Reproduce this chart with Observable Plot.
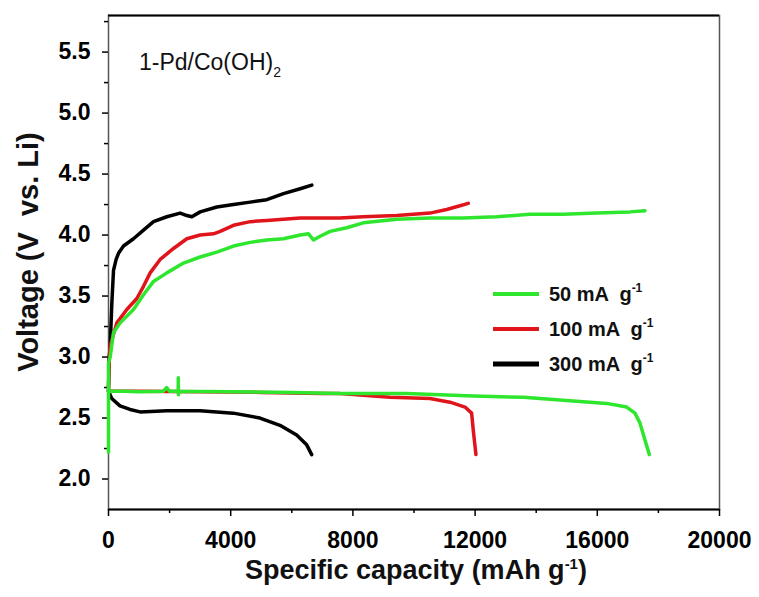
<!DOCTYPE html>
<html><head><meta charset="utf-8">
<script src="https://cdn.jsdelivr.net/npm/d3@7"></script>
<script src="https://cdn.jsdelivr.net/npm/@observablehq/plot@0.6"></script>
<style>
html,body{margin:0;padding:0;background:#fff;}
#chart{width:759px;height:597px;}
</style></head><body><div id="chart"></div>
<script>
// Series draw order (back to front) and colours
const rates = [300, 100, 50];
const rateColors = ["#000000", "#e0141b", "#2ee62e"];
// Legend order as shown
const legendRates = [50, 100, 300];

// [capacity (mAh/g), voltage (V)]
const charge300 = [[0,2.72],[20,3.00],[55,3.05],[80,3.25],[109,3.44],[164,3.71],[250,3.80],[327,3.85],[491,3.91],[818,3.97],[1146,4.04],[1473,4.11],[1909,4.15],[2346,4.18],[2564,4.16],[2728,4.15],[3000,4.19],[3546,4.23],[4091,4.25],[4637,4.27],[5182,4.29],[5728,4.34],[6274,4.38],[6655,4.41]];
const discharge300 = [[0,2.72],[105,2.66],[376,2.60],[704,2.57],[1031,2.55],[1905,2.56],[2995,2.56],[4085,2.54],[4958,2.50],[5613,2.44],[6159,2.36],[6487,2.28],[6651,2.20]];
const charge100 = [[0,2.75],[30,3.02],[55,3.09],[273,3.28],[600,3.39],[927,3.48],[1146,3.58],[1364,3.69],[1691,3.80],[2128,3.89],[2564,3.97],[3000,4.00],[3437,4.01],[3655,4.03],[4091,4.08],[4637,4.11],[5182,4.12],[5728,4.13],[6274,4.14],[6819,4.14],[7560,4.14],[8340,4.15],[9432,4.16],[10523,4.18],[11069,4.21],[11505,4.24],[11777,4.26]];
const discharge100 = [[0,2.72],[1000,2.72],[3000,2.715],[5000,2.71],[7000,2.70],[7577,2.70],[9214,2.67],[10523,2.66],[11178,2.63],[11669,2.59],[11887,2.54],[11940,2.40],[12028,2.20]];
const charge50 = [[0,2.22],[0,2.95],[55,3.00],[164,3.20],[382,3.28],[818,3.39],[1146,3.51],[1473,3.62],[1909,3.69],[2455,3.77],[3000,3.82],[3546,3.86],[4091,3.91],[4637,3.94],[5182,3.96],[5728,3.97],[6274,4.00],[6546,4.01],[6710,3.96],[6928,3.99],[7255,4.03],[7796,4.06],[8340,4.10],[9432,4.13],[10523,4.14],[11613,4.14],[12706,4.15],[13796,4.17],[14886,4.17],[15979,4.18],[17069,4.19],[17560,4.20]];
const discharge50 = [[0,2.72],[500,2.72],[1000,2.715],[1800,2.72],[1900,2.75],[2000,2.72],[2280,2.72],[2285,2.83],[2290,2.69],[2300,2.72],[4000,2.715],[6000,2.71],[7577,2.70],[9760,2.70],[11940,2.68],[13577,2.67],[15213,2.64],[16304,2.62],[16960,2.59],[17232,2.54],[17396,2.46],[17560,2.32],[17702,2.20]];

const xDomain = [0, 20000];
const yDomain = [1.75, 5.8];
const xMajorTicks = [0, 4000, 8000, 12000, 16000, 20000];
const xMinorTicks = [2000, 6000, 10000, 14000, 18000];
const yMajorTicks = [2.0, 2.5, 3.0, 3.5, 4.0, 4.5, 5.0, 5.5];
const yMinorTicks = [2.25, 2.75, 3.25, 3.75, 4.25, 4.75, 5.25, 5.75];

const sampleLabel = "1-Pd/Co(OH)";
const sampleSub = "2";
const xTitle = "Specific capacity (mAh g";
const yTitle = "Voltage (V  vs. Li)";
const unitSup = "-1";

const curves = [
  {rate: 300, name: "c300", pts: charge300}, {rate: 300, name: "d300", pts: discharge300},
  {rate: 100, name: "c100", pts: charge100}, {rate: 100, name: "d100", pts: discharge100},
  {rate: 50, name: "c50", pts: charge50}, {rate: 50, name: "d50", pts: discharge50}
];
const rows = curves.flatMap(c => c.pts.map(([x, y]) => ({x, y, rate: c.rate, curve: c.name})));

const FONT = "'Liberation Sans', Arial, sans-serif";

const svg = Plot.plot({
  width: 759, height: 597,
  marginLeft: 108, marginRight: 40, marginTop: 15, marginBottom: 88,
  style: {fontFamily: FONT, background: "#fff", color: "#000"},
  x: {domain: xDomain},
  y: {domain: yDomain},
  color: {domain: rates, range: rateColors},
  marks: [
    Plot.frame({stroke: "#555", strokeWidth: 1.5}),
    Plot.ruleY([yDomain[0], yDomain[1]], {stroke: "#000", strokeWidth: 2}),
    Plot.axisX(xMajorTicks, {tickSize: 7, tickPadding: 15, strokeWidth: 1.5, tickFormat: d3.format("d"), label: null, fontSize: 23, fontWeight: "bold"}),
    Plot.axisX(xMinorTicks, {tickSize: 4, strokeWidth: 1.5, tickFormat: () => "", label: null}),
    Plot.axisY(yMajorTicks, {tickSize: 6, tickPadding: 12, strokeWidth: 1.5, tickFormat: d3.format(".1f"), label: null, fontSize: 23, fontWeight: "bold"}),
    Plot.axisY(yMinorTicks, {tickSize: 4, strokeWidth: 1.5, tickFormat: () => "", label: null}),
    Plot.line(rows, {x: "x", y: "y", z: "curve", stroke: "rate", strokeWidth: 3.5, strokeLinejoin: "round", strokeLinecap: "round"})
  ]
});
document.getElementById("chart").appendChild(svg);

const s = d3.select(svg);
s.selectAll('g[aria-label="x-axis tick label"], g[aria-label="y-axis tick label"]')
  .attr("font-size", 23).attr("font-weight", "bold");

// axis titles
const xt = s.append("text").attr("x", 416).attr("y", 579).attr("text-anchor", "middle")
  .attr("font-family", FONT).attr("font-size", 27).attr("font-weight", "bold").attr("fill", "#111");
xt.append("tspan").text(xTitle);
xt.append("tspan").attr("font-size", 15).attr("dy", -10).text(unitSup);
xt.append("tspan").attr("dy", 10).text(")");

s.append("text").attr("transform", "translate(38,252) rotate(-90)").attr("text-anchor", "middle")
  .attr("font-family", FONT).attr("font-size", 29).attr("font-weight", "bold").attr("fill", "#111")
  .style("white-space", "pre").text(yTitle);

// sample annotation
const an = s.append("text").attr("x", 139).attr("y", 70).attr("text-anchor", "start")
  .attr("font-family", FONT).attr("font-size", 23).attr("fill", "#111");
an.append("tspan").text(sampleLabel);
an.append("tspan").attr("font-size", 14).attr("dy", 7).text(sampleSub);

// legend
const colorOf = r => rateColors[rates.indexOf(r)];
legendRates.forEach((r, i) => {
  const y = 294 + i * 35;
  s.append("line").attr("x1", 493).attr("x2", 539).attr("y1", y).attr("y2", y)
    .attr("stroke", colorOf(r)).attr("stroke-width", r === 300 ? 5 : 4);
  const t = s.append("text").attr("x", 549).attr("y", y + 7).attr("text-anchor", "start")
    .attr("font-family", FONT).attr("font-size", 20).attr("font-weight", "bold").attr("fill", "#111")
    .style("white-space", "pre");
  t.append("tspan").text(`${r} mA  g`);
  t.append("tspan").attr("font-size", 12).attr("dy", -9).text(unitSup);
});
</script></body></html>
